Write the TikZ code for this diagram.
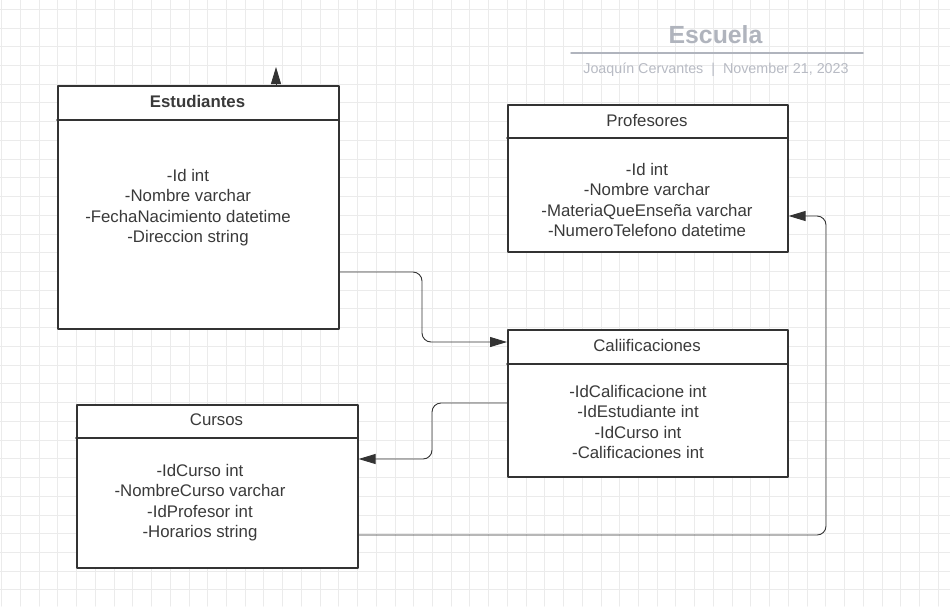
\documentclass[tikz,border=0pt]{standalone}
\usepackage{fontspec}
\setmainfont{Liberation Sans}
\usetikzlibrary{arrows.meta}
\definecolor{linec}{HTML}{333333}
\definecolor{textc}{HTML}{3A3A3A}
\definecolor{titlec}{HTML}{B0B4BD}
\definecolor{gridc}{HTML}{EBEBEB}
\tikzset{
  table/.style={draw=linec,line width=1.6pt,fill=white,anchor=north west,inner sep=0pt},
  head/.style={text=textc,font=\fontsize{16.8}{19}\selectfont},
  attrs/.style={text=textc,align=center,font=\fontsize{16.8}{20.4}\selectfont},
  link/.style={draw=linec,line width=0.9pt,rounded corners=9pt,-{Triangle[length=17pt,width=10pt]}},
}
\begin{document}
\begin{tikzpicture}[line cap=round,line join=round,x=1pt,y=-1pt]
\useasboundingbox[fill=white] (0,0) rectangle (950,606);
% grid
\foreach \i in {0,...,50} {
  \draw[gridc,line width=1pt] (1.7+18.73*\i,0) -- (1.7+18.73*\i,606);
}
\foreach \j in {0,...,32} {
  \draw[gridc,line width=1pt] (0,9.3+18.73*\j) -- (950,9.3+18.73*\j);
}
% title
\node[text=titlec,font=\bfseries\fontsize{24.8}{28}\selectfont] (title) at (715.5,35) {Escuela};
\draw[titlec,line width=1.5pt] (571,53) -- (863,53);
\node[text=titlec!90!white,font=\fontsize{14.3}{17}\selectfont] (sub) at (716,69.5) {Joaquín Cervantes \ | \ November 21, 2023};
% tables
\node[table,minimum width=281pt,minimum height=243pt] (est) at (57,85) {};
\draw[linec,line width=1.6pt] (57,120) -- (338,120);
\node[head,font=\bfseries\fontsize{16.8}{19}\selectfont] (esth) at (197.5,101) {Estudiantes};
\node[attrs] (esta) at (188,207.5) {-Id int\\-Nombre varchar\\-FechaNacimiento datetime\\-Direccion string};
\node[table,minimum width=280pt,minimum height=147pt] (prof) at (507,104) {};
\draw[linec,line width=1.6pt] (507,138) -- (787,138);
\node[head] (profh) at (647,120) {Profesores};
\node[attrs] (profa) at (647,200) {-Id int\\-Nombre varchar\\-MateriaQueEnseña varchar\\-NumeroTelefono datetime};
\node[table,minimum width=280pt,minimum height=147pt] (cal) at (507,329) {};
\draw[linec,line width=1.6pt] (507,364) -- (787,364);
\node[head] (calh) at (647,345) {Caliificaciones};
\node[attrs] (cala) at (638,422) {-IdCalificacione int\\-IdEstudiante int\\-IdCurso int\\-Calificaciones int};
\node[table,minimum width=281pt,minimum height=163pt] (cur) at (76,404) {};
\draw[linec,line width=1.6pt] (76,438) -- (357,438);
\node[head] (curh) at (216.5,420) {Cursos};
\node[attrs] (cura) at (200,502.5) {-IdCurso int\\-NombreCurso varchar\\-IdProfesor int\\-Horarios string};
% connectors
\coordinate (stub) at (276,67);
\draw[link] (est.north -| stub) -- (stub);
\draw[link] (est.east |- 0,272) -| (422,342) -- (cal.west |- 0,342);
\draw[link] (cal.west |- 0,403) -| (432,459) -- (cur.east |- 0,459);
\draw[link] (cur.east |- 0,535) -| (826,216) -- (prof.east |- 0,216);
\end{tikzpicture}
\end{document}
